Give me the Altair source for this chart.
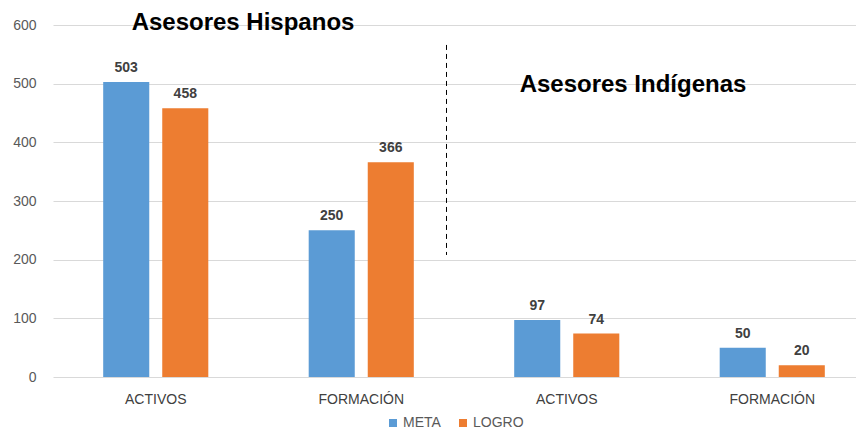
import altair as alt
import pandas as pd

# Data
grupos = ["H|ACTIVOS", "H|FORMACIÓN", "I|ACTIVOS", "I|FORMACIÓN"]
meta = [503, 250, 97, 50]
logro = [458, 366, 74, 20]
series = ["META", "LOGRO"]
colores = ["#5B9BD5", "#ED7D31"]
y_ticks = [0, 100, 200, 300, 400, 500, 600]
divisor = [566, 208]  # extent of dashed separator, in data units

rows = []
for g, m, l in zip(grupos, meta, logro):
    rows.append({"grupo": g, "serie": "META", "valor": m})
    rows.append({"grupo": g, "serie": "LOGRO", "valor": l})
df = pd.DataFrame(rows)

FONT = "Liberation Sans"

x_enc = alt.X(
    "grupo:N",
    sort=grupos,
    scale=alt.Scale(range=[0, 822], paddingInner=0, paddingOuter=0),
    axis=alt.Axis(
        title=None,
        labelAngle=0,
        labelExpr="split(datum.label, '|')[1]",
        ticks=False,
        domain=False,
        grid=False,
        labelPadding=15,
        labelFontSize=14,
        labelColor="#404040",
        labelFont=FONT,
    ),
)
xoff = alt.XOffset(
    "serie:N",
    sort=series,
    scale=alt.Scale(paddingInner=0.22, paddingOuter=0.85),
)
y_enc = alt.Y(
    "valor:Q",
    scale=alt.Scale(domain=[0, 600]),
    axis=alt.Axis(
        title=None,
        values=y_ticks,
        ticks=False,
        domain=False,
        grid=True,
        gridColor="#d9d9d9",
        gridWidth=1,
        labelPadding=17,
        labelFontSize=14,
        labelColor="#595959",
        labelFont=FONT,
    ),
)

bars = alt.Chart(df).mark_bar().encode(
    x=x_enc,
    xOffset=xoff,
    y=y_enc,
    color=alt.Color(
        "serie:N",
        sort=series,
        scale=alt.Scale(domain=series, range=colores),
        legend=alt.Legend(
            title=None,
            orient="none",
            direction="horizontal",
            legendX=333,
            legendY=391,
            symbolType="square",
            symbolSize=64,
            symbolStrokeWidth=0,
            labelFontSize=14,
            labelColor="#595959",
            labelFont=FONT,
            labelOffset=3,
            columnPadding=15,
        ),
    ),
)

labels = alt.Chart(df).mark_text(
    baseline="alphabetic", dy=-10, fontSize=14, fontWeight="bold",
    color="#404040", font=FONT,
).encode(
    x=alt.X("grupo:N", sort=grupos),
    xOffset=alt.XOffset("serie:N", sort=series),
    y="valor:Q",
    text="valor:Q",
)

div_df = pd.DataFrame({"y": [divisor[0]], "y2": [divisor[1]]})
divider = alt.Chart(div_df).mark_rule(
    color="#000000", strokeWidth=1, strokeDash=[5, 4]
).encode(x=alt.value(393.5), y="y:Q", y2="y2:Q")

ann_df = pd.DataFrame({"t": ["Asesores Hispanos", "Asesores Indígenas"]})
ann1 = alt.Chart(ann_df.iloc[[0]]).mark_text(
    fontSize=24, fontWeight="bold", color="#000000", font=FONT,
    baseline="alphabetic", align="center",
).encode(x=alt.value(190), y=alt.value(5), text="t:N")
ann2 = alt.Chart(ann_df.iloc[[1]]).mark_text(
    fontSize=24, fontWeight="bold", color="#000000", font=FONT,
    baseline="alphabetic", align="center",
).encode(x=alt.value(580), y=alt.value(67), text="t:N")

chart = alt.layer(bars, labels, divider, ann1, ann2).properties(
    width=803,
    height=352,
    autosize=alt.AutoSizeParams(type="none"),
    padding={"left": 45, "top": 17, "right": 0, "bottom": 55},
).configure_view(stroke=None)

chart.save("out.html", embed_options={"renderer": "svg", "actions": False})
